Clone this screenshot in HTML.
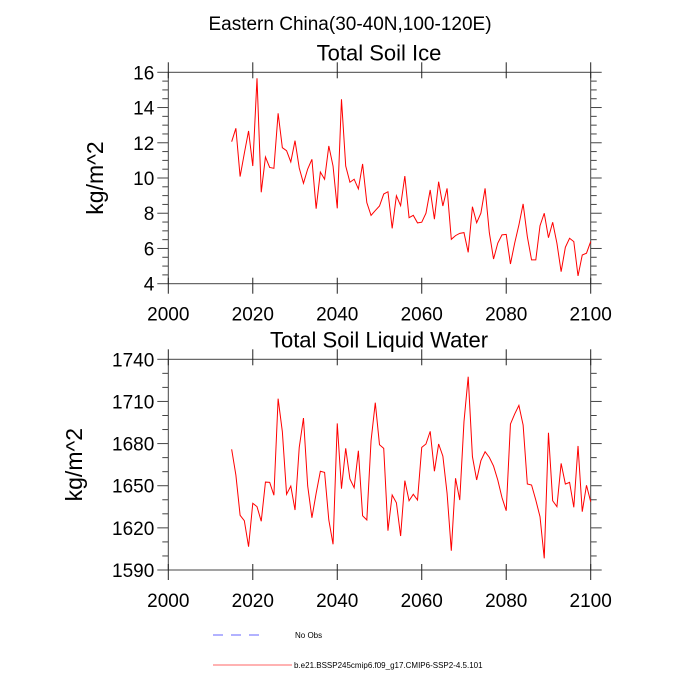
<!DOCTYPE html>
<html><head><meta charset="utf-8"><style>
body{margin:0;background:#fff}
svg{display:block;font-family:"Liberation Sans",sans-serif}
</style></head><body>
<svg id="chart" width="700" height="700" viewBox="0 0 700 700" xmlns="http://www.w3.org/2000/svg">
<text x="350" y="30" font-size="19" text-anchor="middle">Eastern China(30-40N,100-120E)</text>
<g id="p1"></g>
<g id="p2"></g>
<g>
<line x1="213" y1="635" x2="262" y2="635" stroke="#6666ff" stroke-width="1" stroke-dasharray="10,8"/>
<text x="295" y="638" font-size="8">No Obs</text>
<line x1="213" y1="665" x2="292" y2="665" stroke="#ff6666" stroke-width="1"/>
<text x="294" y="668" font-size="8">b.e21.BSSP245cmip6.f09_g17.CMIP6-SSP2-4.5.101</text>
</g>
</svg>
<script>
const years=[];for(let y=2015;y<=2100;y++)years.push(y);
const iceValues=[12.06,12.82,10.08,11.4,12.67,10.68,15.66,9.19,11.19,10.6,10.55,13.67,11.72,11.55,10.91,12.12,10.57,9.7,10.51,11.06,8.26,10.34,9.93,11.82,10.68,8.28,14.47,10.68,9.76,9.93,9.38,10.8,8.6,7.88,8.15,8.41,9.09,9.22,7.14,8.99,8.43,10.11,7.75,7.88,7.45,7.49,8.0,9.32,7.66,9.79,8.41,9.41,6.52,6.73,6.86,6.9,5.78,8.37,7.46,8.0,9.41,6.9,5.4,6.3,6.77,6.8,5.12,6.3,7.33,8.53,6.67,5.35,5.35,7.29,8.0,6.61,7.49,6.3,4.68,6.07,6.58,6.39,4.44,5.63,5.73,6.39];
const liquidValues=[1675.9,1657.6,1628.9,1625.1,1606.6,1637.5,1635.1,1624.7,1652.6,1652.4,1643.2,1712,1688.5,1643.9,1649.8,1632.7,1677.3,1698.2,1649.8,1627.2,1644.6,1660.3,1659.5,1625.6,1608.3,1694.4,1647.9,1676.6,1654.8,1648.6,1674.9,1628.6,1625.6,1682,1709.1,1679.2,1676.6,1618,1643.4,1637.9,1614.2,1653.6,1639.3,1643.9,1639.8,1677.3,1679.7,1688.7,1660.3,1679.7,1671.1,1644.6,1603.7,1655.3,1639.8,1695.6,1727.6,1670.7,1654.1,1667.8,1674.2,1670.2,1664,1654.1,1641.5,1632.2,1693.9,1701,1707.2,1693.2,1651.2,1650.5,1639.8,1627.9,1598.3,1687.7,1639.3,1635.1,1665.9,1651.2,1652.4,1634.6,1678.3,1631.5,1650.3,1638.6];
const xTicks=[2000,2020,2040,2060,2080,2100];
const iceYTicks=[4,6,8,10,12,14,16];
const liquidYTicks=[1590,1620,1650,1680,1710,1740];
const NS='http://www.w3.org/2000/svg';
function mk(p,tag,a,txt){const e=document.createElementNS(NS,tag);for(const k in a)e.setAttribute(k,a[k]);if(txt!==undefined)e.textContent=txt;p.appendChild(e);return e;}
function panel(g,title,top,bot,ymin,ymax,yt,minorStep,vals,key,ylx){
  const L=168.3,R=590.7;
  const sx=v=>L+(v-2000)/100*(R-L);
  const sy=v=>bot-(v-ymin)/(ymax-ymin)*(bot-top);
  const t=mk(g,'text',{x:379,y:top-12,'font-size':22,'text-anchor':'middle'},title);
  
  
  const fr=mk(g,'rect',{x:L,y:top,width:R-L,height:bot-top,fill:'none',stroke:'#444','stroke-width':1});
  
  
  for(let v=ymin;v<=ymax+1e-9;v+=minorStep){
    const major=yt.some(m=>Math.abs(m-v)<1e-6);const len=major?11:6;const y=sy(v);
    const a=mk(g,'line',{x1:L-len,y1:y,x2:L,y2:y,stroke:'#444','stroke-width':1});
    
    
    const b=mk(g,'line',{x1:R,y1:y,x2:R+len,y2:y,stroke:'#444','stroke-width':1});
    
    
  }
  yt.forEach(v=>{const e=mk(g,'text',{x:L-14,y:sy(v)+7,'font-size':19,'text-anchor':'end'},String(v));
    
    });
  xTicks.forEach(v=>{const x=sx(v);
    const a=mk(g,'line',{x1:x,y1:bot-6,x2:x,y2:bot+10,stroke:'#222','stroke-width':1});
    
    
    const b=mk(g,'line',{x1:x,y1:top-10,x2:x,y2:top+6,stroke:'#222','stroke-width':1});
    
    
    const e=mk(g,'text',{x:x,y:bot+37,'font-size':19,'text-anchor':'middle'},String(v));
    
    });
  const yl=mk(g,'text',{x:0,y:0,'font-size':23,'text-anchor':'middle',transform:`translate(${ylx},${(top+bot)/2}) rotate(-90)`},'kg/m^2');
  
  
  const pts=vals.map((v,i)=>sx(years[i]).toFixed(2)+','+sy(v).toFixed(2)).join(' ');
  const pl=mk(g,'polyline',{points:pts,fill:'none',stroke:'#ff0000','stroke-width':1});
  
  
}
panel(document.getElementById('p1'),'Total Soil Ice',72.3,283.7,4,16,iceYTicks,0.5,iceValues,'ice',103);
panel(document.getElementById('p2'),'Total Soil Liquid Water',359.3,570,1590,1740,liquidYTicks,10,liquidValues,'liquid',82);
</script>
</body></html>
